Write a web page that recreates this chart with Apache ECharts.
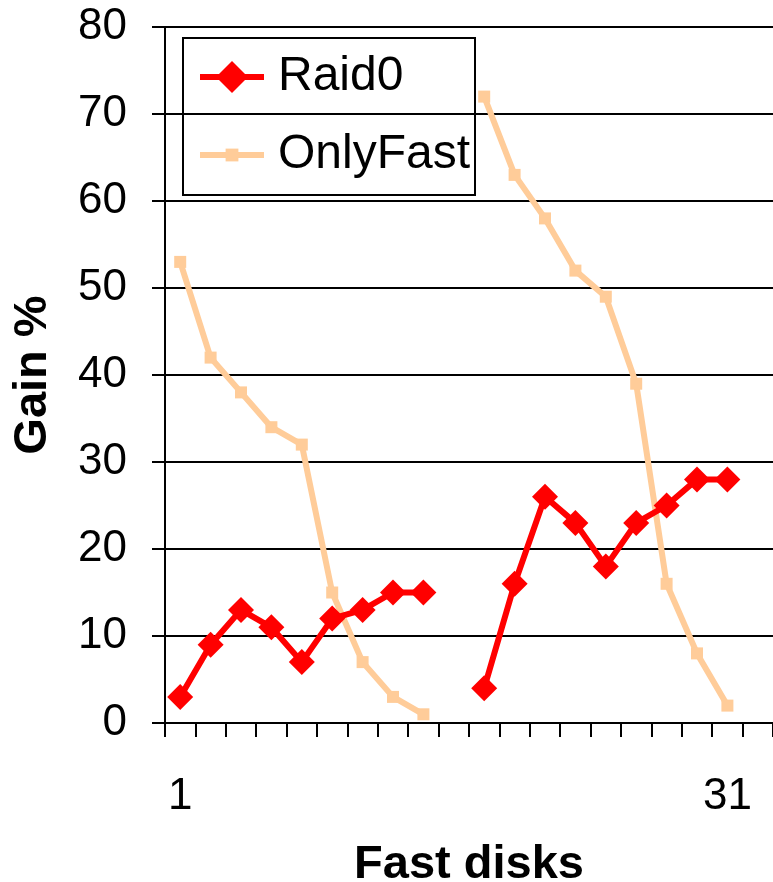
<!DOCTYPE html>
<html>
<head>
<meta charset="utf-8">
<script src="https://cdn.jsdelivr.net/npm/echarts@6/dist/echarts.min.js"></script>
<style>
html,body{margin:0;padding:0;background:#fff;}
#c{width:773px;height:882px;}
</style>
</head>
<body>
<div id="c"></div>
<script>
const categories = ['1','','','','','','','','','','','','','','','','','','31',''];
const raid0 = [3, 9, 13, 11, 7, 12, 13, 15, 15, null, 4, 16, 26, 23, 18, 23, 25, 28, 28, null];
const onlyFast = [53, 42, 38, 34, 32, 15, 7, 3, 1, null, 72, 63, 58, 52, 49, 39, 16, 8, 2, null];
const yTicks = {min: 0, max: 80, interval: 10};

const FONT = 'Arial, "Liberation Sans", sans-serif';
const legendText = {fontFamily: FONT, fontSize: 48, color: '#000', lineHeight: 52, padding: [0, 0, 0, 9]};
const chart = echarts.init(document.getElementById('c'), null, {renderer: 'canvas'});
chart.setOption({
  backgroundColor: '#ffffff',
  animation: false,
  grid: {left: 165, top: 27, right: 0, bottom: 159, containLabel: false, outerBoundsMode: 'none'},
  graphic: [{
    type: 'rect', left: 182, top: 37, z: 1, silent: true,
    shape: {width: 292, height: 157},
    style: {fill: 'rgba(0,0,0,0)', stroke: '#000', lineWidth: 2}
  }],
  legend: [
    {
      orient: 'vertical', left: 197, top: 51, padding: 0, z: 20,
      backgroundColor: 'rgba(0,0,0,0)',
      itemWidth: 64, itemHeight: 40,
      lineStyle: {width: 6},
      textStyle: legendText,
      data: ['Raid0']
    },
    {
      orient: 'vertical', left: 197, top: 129, padding: 0, z: 20,
      backgroundColor: 'rgba(0,0,0,0)',
      itemWidth: 64, itemHeight: 16,
      lineStyle: {width: 6},
      textStyle: legendText,
      data: ['OnlyFast']
    }
  ],
  xAxis: {
    type: 'category',
    data: categories,
    boundaryGap: true,
    name: 'Fast disks',
    nameLocation: 'middle',
    nameGap: 119,
    nameTextStyle: {fontFamily: FONT, fontSize: 47, fontWeight: 'bold', color: '#000'},
    axisLine: {lineStyle: {color: '#000', width: 2}},
    axisTick: {show: true, length: 14, lineStyle: {color: '#000', width: 2}, interval: 0},
    axisLabel: {interval: 0, margin: 52, fontFamily: FONT, fontSize: 44, color: '#000'},
    splitLine: {show: false}
  },
  yAxis: {
    type: 'value',
    min: yTicks.min, max: yTicks.max, interval: yTicks.interval,
    name: 'Gain %',
    nameLocation: 'middle',
    nameGap: 108,
    nameRotate: 90,
    nameTextStyle: {fontFamily: FONT, fontSize: 47, fontWeight: 'bold', color: '#000'},
    axisLine: {show: true, lineStyle: {color: '#000', width: 2}},
    axisTick: {show: true, length: 13, lineStyle: {color: '#000', width: 2}},
    axisLabel: {margin: 38, fontFamily: FONT, fontSize: 44, color: '#000'},
    splitLine: {show: true, lineStyle: {color: '#000', width: 2}}
  },
  series: [
    {
      name: 'OnlyFast', type: 'line', data: onlyFast,
      symbol: 'rect', symbolSize: 12,
      lineStyle: {color: '#FFCC99', width: 6},
      itemStyle: {color: '#FFCC99'},
      z: 2
    },
    {
      name: 'Raid0', type: 'line', data: raid0,
      symbol: 'diamond', symbolSize: [26, 26],
      lineStyle: {color: '#FF0000', width: 6},
      itemStyle: {color: '#FF0000'},
      z: 3
    }
  ]
});
</script>
</body>
</html>
